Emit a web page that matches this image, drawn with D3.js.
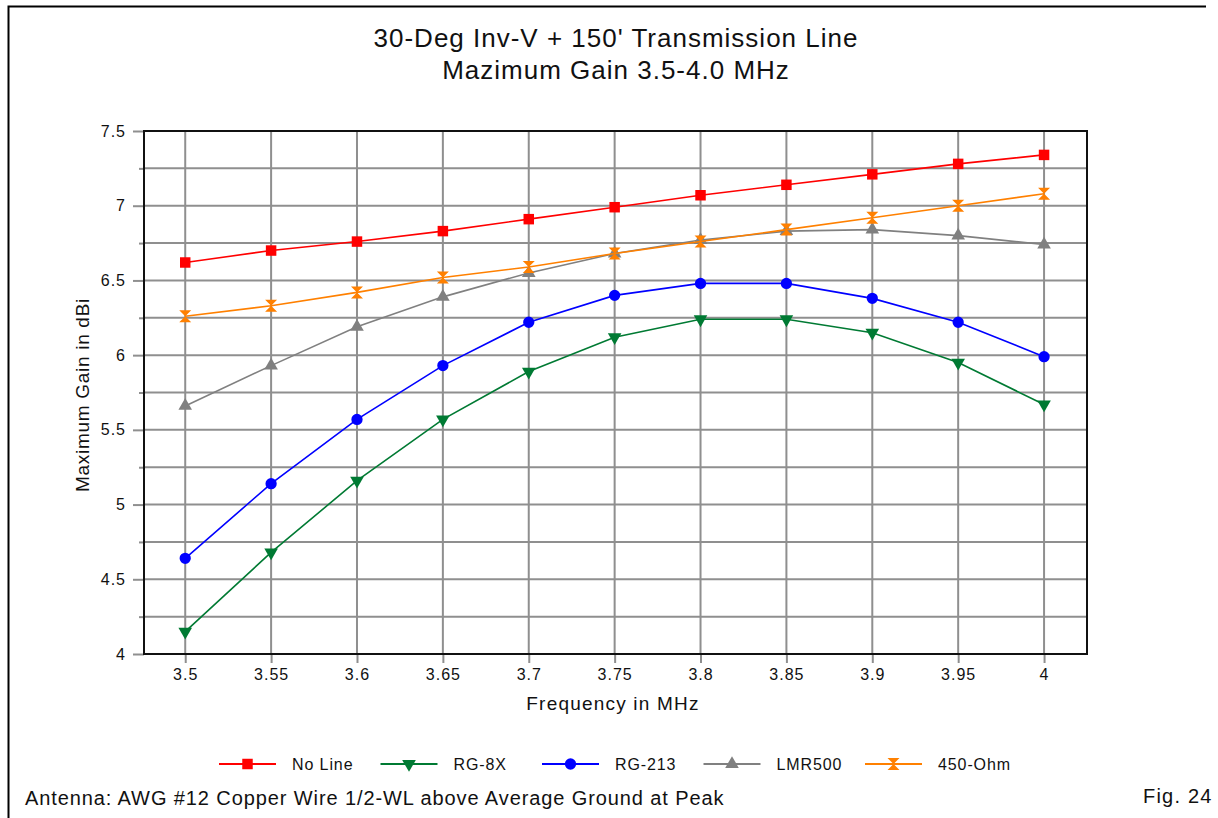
<!DOCTYPE html>
<html>
<head>
<meta charset="utf-8">
<script src="https://cdn.jsdelivr.net/npm/d3@7"></script>
<style>
  body { margin: 0; background: #fff; }
  text { font-family: "Liberation Sans", Arial, sans-serif; fill: #111; }
</style>
</head>
<body>
<script>
const freqs = [3.5, 3.55, 3.6, 3.65, 3.7, 3.75, 3.8, 3.85, 3.9, 3.95, 4.0];
const noLine = [6.62, 6.7, 6.76, 6.83, 6.91, 6.99, 7.07, 7.14, 7.21, 7.28, 7.34];
const rg8x = [4.15, 4.68, 5.16, 5.57, 5.89, 6.12, 6.24, 6.24, 6.15, 5.95, 5.67];
const rg213 = [4.64, 5.14, 5.57, 5.93, 6.22, 6.4, 6.48, 6.48, 6.38, 6.22, 5.99];
const lmr500 = [5.66, 5.93, 6.19, 6.39, 6.55, 6.68, 6.77, 6.83, 6.84, 6.8, 6.74];
const ohm450 = [6.26, 6.33, 6.42, 6.52, 6.59, 6.68, 6.76, 6.84, 6.92, 7.0, 7.08];
const seriesNames = ["No Line", "RG-8X", "RG-213", "LMR500", "450-Ohm"];
const xTicks = [3.5, 3.55, 3.6, 3.65, 3.7, 3.75, 3.8, 3.85, 3.9, 3.95, 4];
const yTicks = [4, 4.5, 5, 5.5, 6, 6.5, 7, 7.5];

const W = 1218, H = 818;
const margin = { top: 131, right: 131, bottom: 164, left: 144 };
const width = W - margin.left - margin.right,
  height = H - margin.top - margin.bottom;

const series = [
  { name: seriesNames[0], values: noLine, color: "#ff0000", mark: "square" },
  { name: seriesNames[1], values: rg8x, color: "#007a33", mark: "down" },
  { name: seriesNames[2], values: rg213, color: "#0000ff", mark: "circle" },
  { name: seriesNames[3], values: lmr500, color: "#808080", mark: "up" },
  { name: seriesNames[4], values: ohm450, color: "#ff8000", mark: "hourglass" }
];

const svg0 = d3.select("body").append("svg").attr("width", W).attr("height", H);

// outer frame (only top and left edges show)
svg0.append("path")
  .attr("d", "M8.5,818 L8.5,6.5 L1206,6.5")
  .attr("fill", "none").attr("stroke", "#000").attr("stroke-width", 2);

svg0.append("text").attr("x", 616).attr("y", 47).attr("text-anchor", "middle")
  .style("font-size", "26px").style("letter-spacing", "1px")
  .text("30-Deg Inv-V + 150' Transmission Line");
svg0.append("text").attr("x", 616).attr("y", 79).attr("text-anchor", "middle")
  .style("font-size", "26px").style("letter-spacing", "1px")
  .text("Mazimum Gain 3.5-4.0 MHz");

const svg = svg0.append("g")
  .attr("transform", "translate(" + margin.left + "," + margin.top + ")");

const xScale = d3.scaleLinear().domain([3.476, 4.025]).range([0, width]);
const yScale = d3.scaleLinear().domain([4, 7.5]).range([height, 0]);

// grid
const yGrid = d3.range(4.25, 7.5, 0.25);
svg.selectAll(".hgrid").data(yGrid).enter().append("line")
  .attr("x1", 0).attr("x2", width)
  .attr("y1", (d) => yScale(d)).attr("y2", (d) => yScale(d))
  .attr("stroke", "#8f8f8f").attr("stroke-width", 2);
svg.selectAll(".vgrid").data(xTicks).enter().append("line")
  .attr("x1", (d) => xScale(d)).attr("x2", (d) => xScale(d))
  .attr("y1", 0).attr("y2", height)
  .attr("stroke", "#8f8f8f").attr("stroke-width", 2);

// axes
const xAxis = d3.axisBottom(xScale).tickValues(xTicks).tickSize(9).tickPadding(6)
  .tickFormat((d) => d3.format("")(+d.toFixed(2)));
const yAxis = d3.axisLeft(yScale).tickValues(d3.range(4, 7.51, 0.25)).tickSize(11).tickPadding(7)
  .tickFormat((d) => (Math.abs(d * 2 - Math.round(d * 2)) < 1e-6 ? d3.format("")(d) : ""));

const gx = svg.append("g").attr("transform", `translate(0, ${height})`).call(xAxis);
const gy = svg.append("g").call(yAxis);
[gx, gy].forEach((g) => {
  g.select(".domain").remove();
  g.selectAll(".tick line").attr("stroke", "#8f8f8f").attr("stroke-width", 2);
  g.selectAll(".tick text").style("font-size", "16px").style("letter-spacing", "1px")
    .attr("fill", "#111");
});
gy.selectAll(".tick").filter((d) => Math.abs(d * 2 - Math.round(d * 2)) > 1e-6)
  .select("line").attr("x2", -5);

// frame
svg.append("rect").attr("x", 0).attr("y", 0).attr("width", width).attr("height", height)
  .attr("fill", "none").attr("stroke", "#111").attr("stroke-width", 2);

// axis titles
svg0.append("text").attr("x", 613).attr("y", 710).attr("text-anchor", "middle")
  .style("font-size", "19px").style("letter-spacing", "1.2px").text("Frequency in MHz");
svg0.append("text").attr("transform", "translate(89,395) rotate(-90)")
  .attr("text-anchor", "middle").style("font-size", "19px").style("letter-spacing", "0.7px")
  .text("Maximum Gain in dBi");

// markers
function markPath(kind) {
  switch (kind) {
    case "square": return d3.symbol(d3.symbolSquare, 110)();
    case "circle": return d3.symbol(d3.symbolCircle, 100)();
    case "up": return d3.symbol(d3.symbolTriangle, 80)();
    case "down": return d3.symbol(d3.symbolTriangle, 80)();
    case "hourglass": return "M-6,-6L6,-6L0,0L6,6L-6,6L0,0Z";
  }
}
function markRot(kind) { return kind === "down" ? " rotate(180)" : ""; }

const line = d3.line()
  .x((d, i) => xScale(freqs[i]))
  .y((d) => yScale(d));

series.forEach((s) => {
  svg.append("path").datum(s.values)
    .attr("fill", "none").attr("stroke", s.color).attr("stroke-width", 1.6)
    .attr("d", line);
  svg.selectAll(null).data(s.values).enter().append("path")
    .attr("d", markPath(s.mark))
    .attr("transform", (d, i) => `translate(${xScale(freqs[i])},${yScale(d)})` + markRot(s.mark))
    .attr("fill", s.color);
});

// legend
const legend = svg0.append("g").attr("transform", "translate(219,764)");
const item = legend.selectAll("g").data(series).enter().append("g")
  .attr("transform", (d, i) => `translate(${i * 161.5},0)`);
item.append("line").attr("x1", 0).attr("x2", 57).attr("y1", 0).attr("y2", 0)
  .attr("stroke", (d) => d.color).attr("stroke-width", 2);
item.append("path").attr("d", (d) => markPath(d.mark))
  .attr("transform", (d) => "translate(28.5,0)" + markRot(d.mark))
  .attr("fill", (d) => d.color);
item.append("text").attr("x", 73).attr("y", 6).style("font-size", "16px")
  .style("letter-spacing", "0.9px").text((d) => d.name);

// footer
svg0.append("text").attr("x", 25).attr("y", 805).style("font-size", "20px")
  .style("letter-spacing", "0.9px")
  .text("Antenna: AWG #12 Copper Wire 1/2-WL above Average Ground at Peak");
svg0.append("text").attr("x", 1143).attr("y", 803).style("font-size", "20px")
  .style("letter-spacing", "1.2px").text("Fig. 24");
</script>
</body>
</html>
